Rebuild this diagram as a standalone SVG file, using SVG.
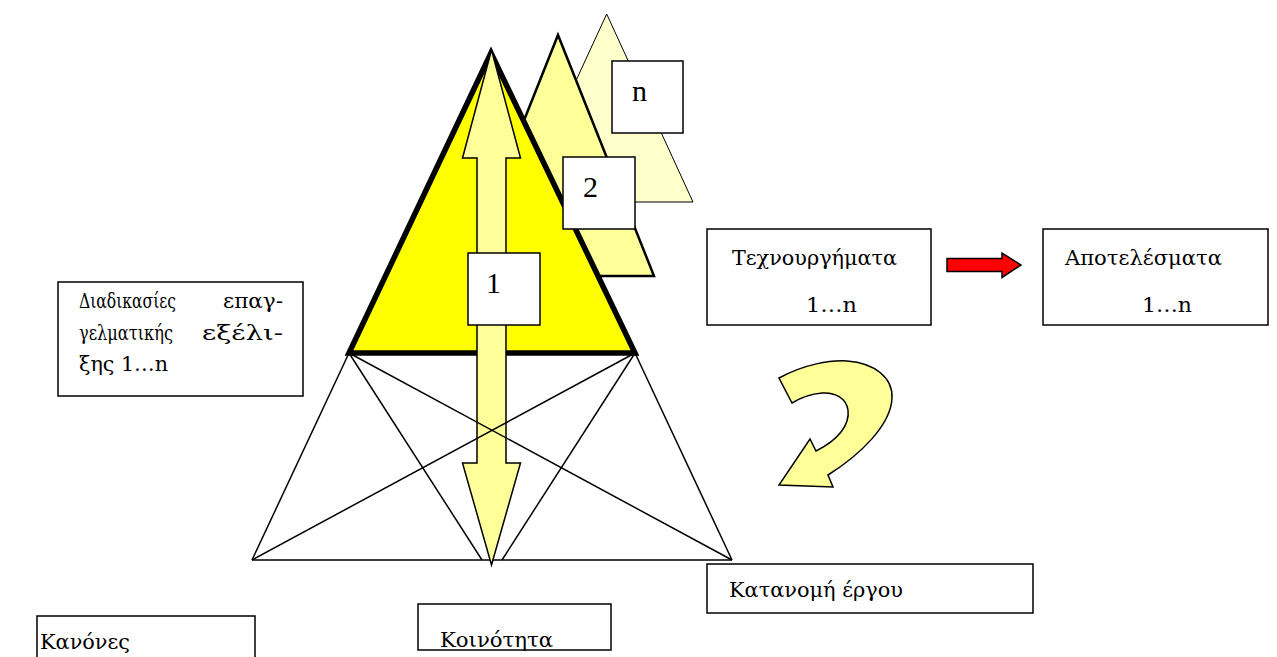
<svg xmlns="http://www.w3.org/2000/svg" width="1277" height="657" viewBox="0 0 1277 657">
<style>
.box{fill:#fff;stroke:#000;stroke-width:1.5}
.t{font-family:"DejaVu Serif","Liberation Serif",serif;font-size:20px;fill:#000}
.num{font-family:"Liberation Serif","DejaVu Serif",serif;font-size:30px;fill:#000}
.ln{stroke:#000;stroke-width:1.5;fill:none}
</style>
<rect width="1277" height="657" fill="#fff"/>
<g id="triangle-n"><polygon points="606.7,14 693,202 520,202" fill="#FFFFCC" stroke="#000" stroke-width="1"/></g>
<g id="triangle-2"><polygon points="558,35 654,276 462,276" fill="#FFFF99" stroke="#000" stroke-width="2.5"/></g>
<g id="box-n"><rect class="box" x="612" y="61" width="71" height="72"/><text class="num" x="632" y="101">n</text></g>
<g id="triangle-1"><polygon points="491,53 635,353 349,353" fill="#FFFF00" stroke="#000" stroke-width="5.5"/></g>
<g id="box-2"><rect class="box" x="563" y="157" width="72" height="72"/><text class="num" x="583" y="197">2</text></g>
<g id="connectors">
<g id="lower-lines">
<line class="ln" x1="252" y1="560" x2="732" y2="560"/>
<line class="ln" x1="349" y1="353" x2="252" y2="560"/>
<line class="ln" x1="349" y1="353" x2="482" y2="560"/>
<line class="ln" x1="635" y1="353" x2="502" y2="560"/>
<line class="ln" x1="635" y1="353" x2="732" y2="560"/>
</g>
<g id="double-arrow"><polygon points="491.5,50 520.5,158 506,158 506,463 520.5,463 491.5,565 462.5,463 477,463 477,158 462.5,158" fill="#FFFF99" stroke="#000" stroke-width="1.5" stroke-linejoin="miter"/></g>
<g id="cross-lines">
<line class="ln" x1="349" y1="353" x2="732" y2="560"/>
<line class="ln" x1="635" y1="353" x2="252" y2="560"/>
</g>
<g id="red-arrow"><polygon points="947,258.5 1002,258.5 1002,253 1021,265 1002,277.5 1002,271.5 947,271.5" fill="#FF0000" stroke="#000" stroke-width="1.5"/></g>
<g id="curved-arrow"><path d="M779,378 C805,364 830,360 847,361 C875,363 893,378 892,398 C891,425 860,455 828,475 L833,487 L779,485 L810,439 L816,451 C838,440 850,425 848,410 C846,398 835,392 822,393 C810,394 800,398 792,403 Z" fill="#FFFF99" stroke="#000" stroke-width="1.5" stroke-linejoin="miter"/></g>
</g>
<g id="box-1"><rect class="box" x="468" y="253" width="72" height="72"/><text class="num" x="486" y="293">1</text></g>
<g id="box-texnourgimata"><rect class="box" x="707" y="229" width="224" height="96"/><text class="t" x="732" y="265" textLength="165" lengthAdjust="spacingAndGlyphs">Τεχνουργήματα</text><text class="t" x="806" y="312" textLength="51" lengthAdjust="spacingAndGlyphs">1…n</text></g>
<g id="box-apotelesmata"><rect class="box" x="1043" y="229" width="225" height="96"/><text class="t" x="1065" y="265" textLength="157" lengthAdjust="spacingAndGlyphs">Αποτελέσματα</text><text class="t" x="1142" y="312" textLength="50" lengthAdjust="spacingAndGlyphs">1…n</text></g>
<g id="box-diadikasies"><rect class="box" x="58" y="282" width="245" height="114"/>
<text class="t" x="79" y="308" textLength="97" lengthAdjust="spacingAndGlyphs">Διαδικασίες</text><text class="t" x="223" y="308" textLength="60" lengthAdjust="spacingAndGlyphs">επαγ-</text>
<text class="t" x="79" y="340" textLength="94" lengthAdjust="spacingAndGlyphs">γελματικής</text><text class="t" x="202" y="340" textLength="81" lengthAdjust="spacingAndGlyphs">εξέλι-</text>
<text class="t" x="79" y="371" textLength="89" lengthAdjust="spacingAndGlyphs">ξης 1…n</text></g>
<g id="box-katanomi"><rect class="box" x="707" y="564" width="326" height="49"/><text class="t" x="729" y="597" textLength="174" lengthAdjust="spacingAndGlyphs">Κατανομή έργου</text></g>
<g id="box-koinotita"><rect class="box" x="418" y="604" width="193" height="46"/><text class="t" x="440" y="647" textLength="113" lengthAdjust="spacingAndGlyphs">Κοινότητα</text></g>
<g id="box-kanones"><rect class="box" x="37" y="616" width="218" height="60"/><text class="t" x="40" y="649" textLength="90" lengthAdjust="spacingAndGlyphs">Κανόνες</text></g>
</svg>
